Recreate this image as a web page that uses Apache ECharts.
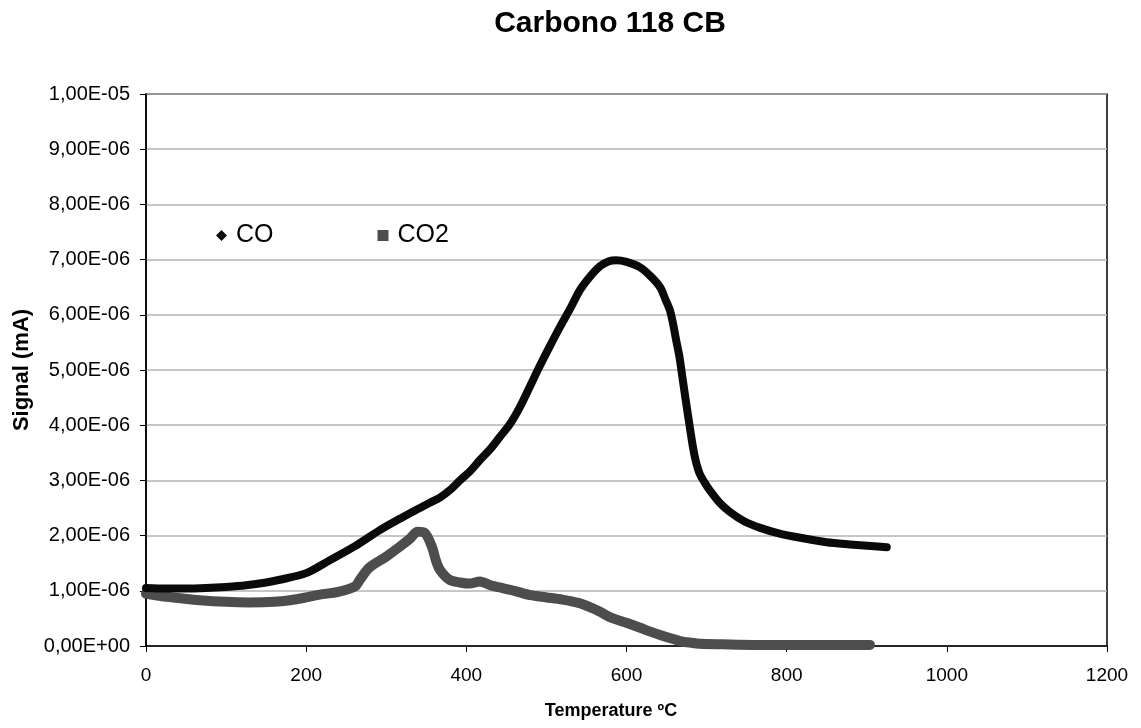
<!DOCTYPE html>
<html><head><meta charset="utf-8">
<script src="https://cdn.jsdelivr.net/npm/echarts@6/dist/echarts.min.js"></script>
<style>html,body{margin:0;padding:0;background:#fff}#c{width:1141px;height:728px}</style>
</head><body><div id="c"></div>
<script>
// Temperatures (ºC) and signals (units of 1E-06 mA)
const coTemp = [0,25,50,75,100,125,150,167,200,229,260,292,320,342,355,367,380,392,405,417,430,442,455,467,480,492,505,517,530,542,555,567,578,587,600,617,630,642,648,654,658,662,666,669,674,679,683,686,689,692,698,704,716,729,748,767,790,817,850,879,905,925];
const coSignal = [1.05,1.04,1.04,1.05,1.07,1.10,1.15,1.2,1.32,1.55,1.8,2.1,2.33,2.5,2.6,2.69,2.83,3.0,3.17,3.37,3.57,3.79,4.03,4.33,4.72,5.08,5.45,5.78,6.12,6.45,6.7,6.88,6.97,6.99,6.96,6.86,6.7,6.5,6.3,6.09,5.85,5.54,5.25,4.95,4.45,3.97,3.6,3.38,3.22,3.1,2.95,2.82,2.6,2.43,2.25,2.14,2.04,1.96,1.88,1.84,1.81,1.79];
const co2Temp = [0,20,40,67,100,129,160,180,200,217,240,261,267,279,300,317,330,339,348,357,362,367,379,392,404,417,430,442,460,480,500,520,540,555,567,580,600,617,630,642,655,667,680,692,720,760,800,850,904];
const co2Signal = [0.95,0.9,0.87,0.83,0.8,0.79,0.8,0.83,0.88,0.93,0.98,1.08,1.2,1.42,1.62,1.8,1.95,2.07,2.05,1.8,1.55,1.38,1.2,1.15,1.13,1.17,1.1,1.06,1.0,0.92,0.88,0.84,0.78,0.7,0.62,0.52,0.42,0.33,0.26,0.2,0.14,0.09,0.06,0.04,0.03,0.02,0.02,0.02,0.02];
const yTickLabels = ['0,00E+00','1,00E-06','2,00E-06','3,00E-06','4,00E-06','5,00E-06','6,00E-06','7,00E-06','8,00E-06','9,00E-06','1,00E-05'];
const xTickLabels = ['0','200','400','600','800','1000','1200'];
const seriesNames = ['CO','CO2'];

const chart = echarts.init(document.getElementById('c'));
const font = 'Liberation Sans, Arial, sans-serif';
chart.setOption({
  animation:false,
  backgroundColor:'#fff',
  title:[
    {text:'Carbono 118 CB', left:605, top:4, textAlign:'center',
     textStyle:{fontFamily:font,fontSize:30,fontWeight:'bold',color:'#000'}},
    {text:'Temperature ºC', left:606, top:697, textAlign:'center',
     textStyle:{fontFamily:font,fontSize:18,fontWeight:'bold',color:'#000'}}
  ],
  grid:{left:146,top:94,right:34,bottom:82,show:true,borderColor:'#000',borderWidth:1.5,containLabel:false},
  legend:{
    left:216, top:223, padding:0, itemWidth:11, itemHeight:11, itemGap:104,
    textStyle:{fontFamily:font,fontSize:25,color:'#000',padding:[0,0,0,4]},
    data:[{name:seriesNames[0],icon:'diamond'},{name:seriesNames[1],icon:'rect'}]
  },
  xAxis:{
    type:'value', min:0, max:1200, interval:200,
    axisLine:{lineStyle:{color:'#000',width:1.5}},
    axisTick:{show:true,length:6,lineStyle:{color:'#000'}},
    splitLine:{show:false},
    axisLabel:{margin:20,fontFamily:font,fontSize:19,color:'#000',
      formatter:(v)=>xTickLabels[Math.round(v/200)]}
  },
  yAxis:{
    type:'value', min:0, max:10, interval:1,
    name:'Signal (mA)', nameLocation:'middle', nameGap:112, nameRotate:90,
    nameTextStyle:{fontFamily:font,fontSize:22,fontWeight:'bold',color:'#000'},
    axisLine:{show:true,lineStyle:{color:'#000',width:1.5}},
    axisTick:{show:true,length:6,lineStyle:{color:'#000'}},
    splitLine:{show:true,lineStyle:{color:'#b3b3b3',width:1.5}},
    axisLabel:{margin:16,fontFamily:font,fontSize:20,color:'#000',
      formatter:(v)=>yTickLabels[Math.round(v)]}
  },
  series:[
    {name:seriesNames[1], type:'line', smooth:0.3, symbol:'rect', symbolSize:9, showSymbol:false,
     itemStyle:{color:'#4d4d4d'}, lineStyle:{color:'#4d4d4d',width:10,cap:'round',join:'round'},
     data:co2Temp.map((t,i)=>[t,co2Signal[i]]), z:2},
    {name:seriesNames[0], type:'line', smooth:0.3, symbol:'diamond', symbolSize:9, showSymbol:false,
     itemStyle:{color:'#0a0a0a'}, lineStyle:{color:'#0a0a0a',width:8,cap:'round',join:'round'},
     data:coTemp.map((t,i)=>[t,coSignal[i]]), z:3}
  ]
});
</script></body></html>
